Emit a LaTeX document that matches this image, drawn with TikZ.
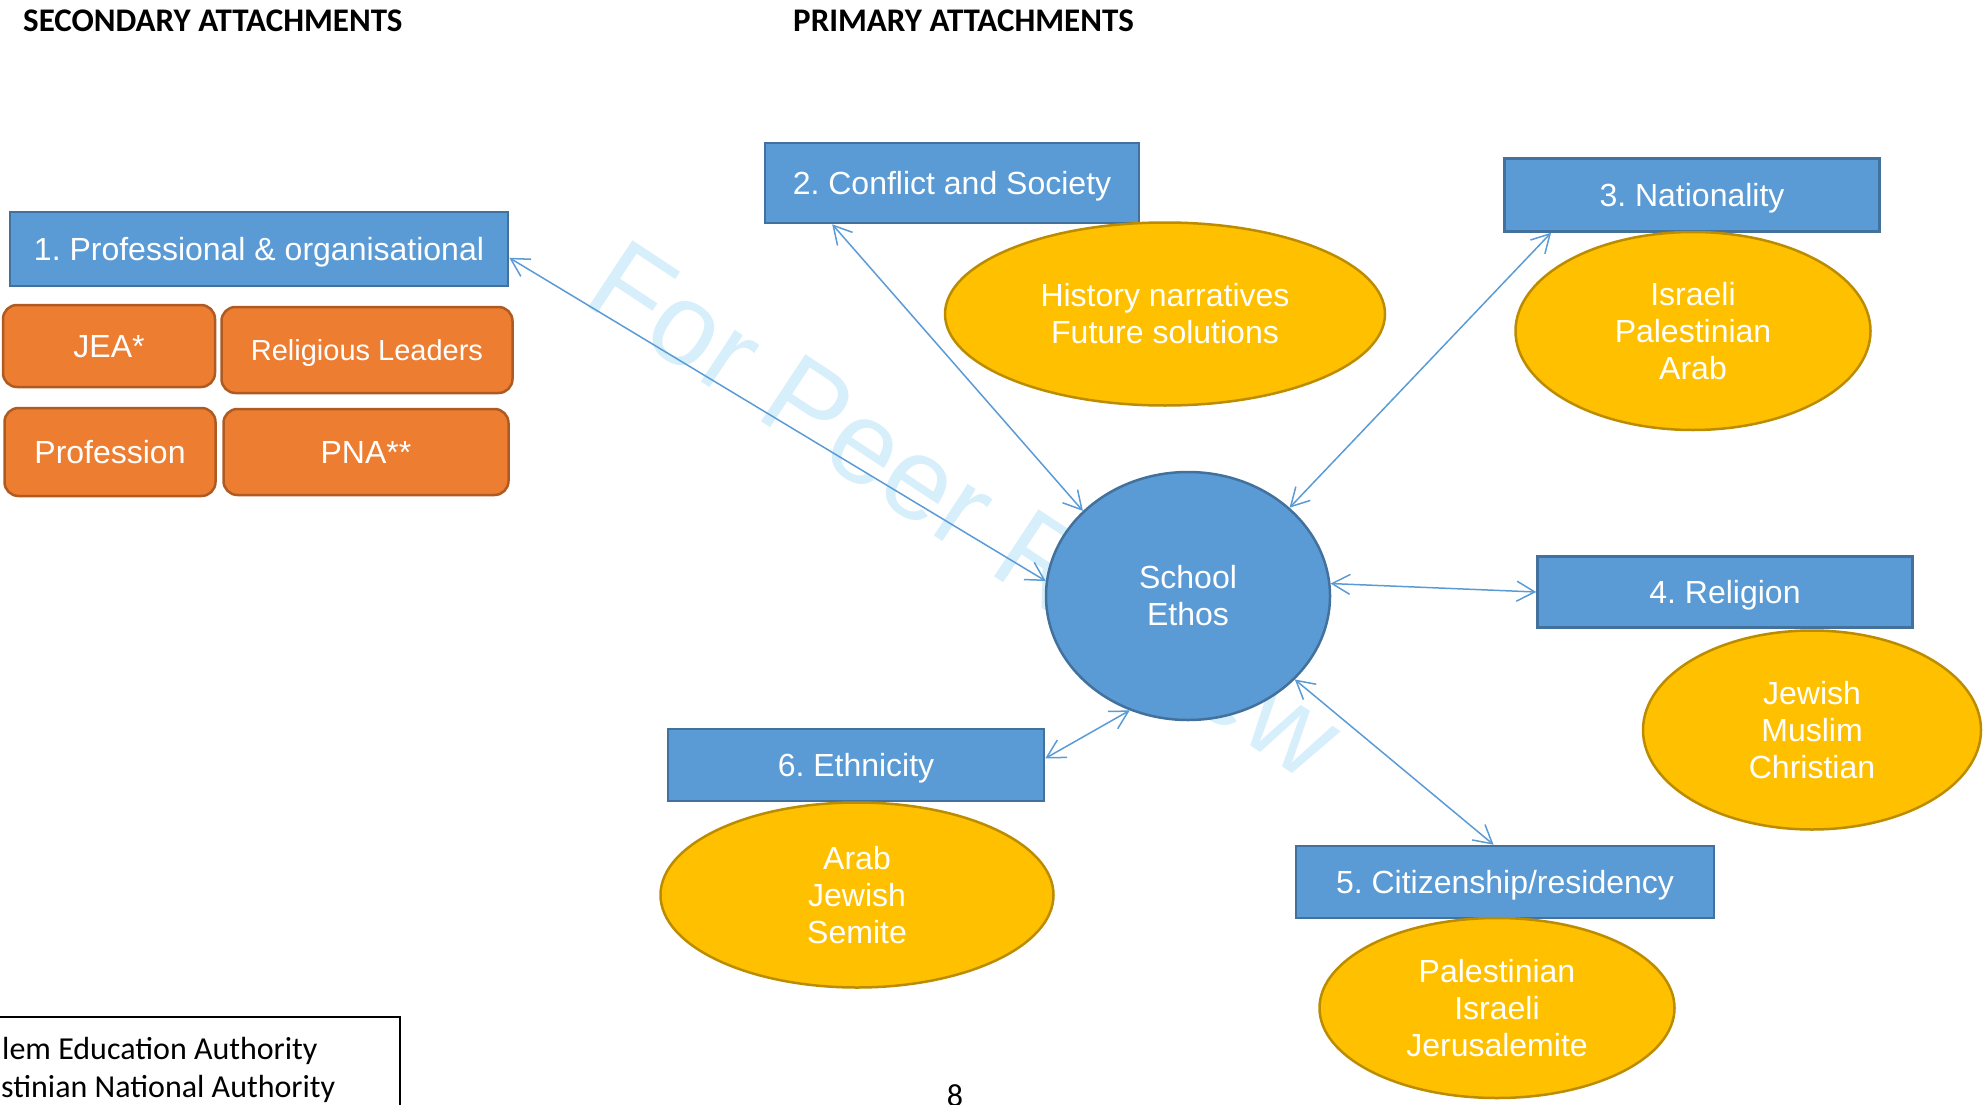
\documentclass[tikz,border=0pt]{standalone}
\usepackage{fontspec}
\setmainfont{Liberation Sans}
\newfontfamily\calibri{Carlito}
\usepackage{xcolor}
\usetikzlibrary{shapes.geometric,arrows.meta}
\frenchspacing

\definecolor{boxblue}{HTML}{5B9BD5}
\definecolor{boxedge}{HTML}{41719C}
\definecolor{orangefill}{HTML}{ED7D31}
\definecolor{orangeedge}{HTML}{AE5A21}
\definecolor{goldfill}{HTML}{FFC000}
\definecolor{goldedge}{HTML}{BC8C00}
\definecolor{stampblue}{RGB}{214,239,251}

\tikzset{
	attach/.style={rectangle, draw=boxedge, fill=boxblue, line width=2.5pt, text=white,
		inner sep=0pt, text height=23pt, text depth=0pt, font=\fontsize{32}{37}\selectfont},
	member/.style={attach, rounded corners=14pt, draw=orangeedge, fill=orangefill},
	facet/.style={ellipse, draw=goldedge, fill=goldfill, line width=2.5pt, text=white,
		inner sep=0pt, align=center, font=\fontsize{32}{37}\selectfont},
	heading/.style={anchor=base west, inner sep=0pt, font=\calibri\bfseries\fontsize{33}{38}\selectfont},
	note/.style={anchor=base west, inner sep=0pt, font=\calibri\fontsize{32}{37}\selectfont},
	link/.style={boxblue, line width=1.5pt,
		{Straight Barb[length=18pt,width=20pt]}-{Straight Barb[length=18pt,width=20pt]}},
}

\begin{document}
\begin{tikzpicture}[x=1pt,y=-1pt]
	\clip (0,0) rectangle (1988,1105);

	% watermark behind everything
	\node[anchor=base west, inner sep=0pt, rotate=-33.5, text=stampblue,
		font=\fontsize{117}{130}\selectfont] (stamp) at (580,302) {For Peer Review};

	\node[heading] (secondary) at (23,32) {SECONDARY ATTACHMENTS};
	\node[heading] (primary) at (793,32) {PRIMARY ATTACHMENTS};

	% secondary attachments
	\node[attach, minimum width=498pt, minimum height=74pt] (prof) at (259,249) {1. Professional \& organisational};
	\node[member, minimum width=212pt, minimum height=82pt] (jea) at (109,346) {JEA*};
	\node[member, minimum width=291pt, minimum height=86pt, text height=21pt,
		font=\fontsize{29}{34}\selectfont] (leaders) at (367,350) {Religious Leaders};
	\node[member, minimum width=211pt, minimum height=88pt] (profession) at (110,452) {Profession};
	\node[member, minimum width=285pt, minimum height=86pt] (pna) at (366,452) {PNA**};

	% primary attachments
	\node[attach, minimum width=374pt, minimum height=80pt] (conflict) at (952,183) {2. Conflict and Society};
	\node[attach, minimum width=375pt, minimum height=73pt] (nation) at (1692,195) {3. Nationality};
	\node[attach, minimum width=375pt, minimum height=71pt] (religion) at (1725,592) {4. Religion};
	\node[attach, minimum width=418pt, minimum height=72pt] (citizen) at (1505,882) {5. Citizenship/residency};
	\node[attach, minimum width=376pt, minimum height=72pt] (ethnic) at (856,765) {6. Ethnicity};

	\node[facet, minimum width=440pt, minimum height=183pt] (history) at (1165,314) {History narratives\\Future solutions};
	\node[facet, minimum width=355pt, minimum height=198pt] (nationlist) at (1693,331) {Israeli\\Palestinian\\Arab};
	\node[facet, minimum width=338pt, minimum height=199pt] (faiths) at (1812,730) {Jewish\\Muslim\\Christian};
	\node[facet, minimum width=355pt, minimum height=180pt] (residency) at (1497,1008) {Palestinian\\Israeli\\Jerusalemite};
	\node[facet, minimum width=393pt, minimum height=185pt] (origins) at (857,895) {Arab\\Jewish\\Semite};

	\node[ellipse, draw=boxedge, fill=boxblue, line width=2.5pt, text=white, inner sep=0pt,
		align=center, minimum width=284pt, minimum height=248pt,
		font=\fontsize{32}{37}\selectfont] (ethos) at (1188,596) {School\\Ethos};

	% links to the school ethos
	\draw[link] (prof.-2) -- (ethos.174);
	\draw[link] (conflict.199) -- (ethos.141);
	\draw[link] (nation.195) -- (ethos.41);
	\draw[link] (religion.west) -- (ethos.5);
	\draw[link] (citizen.107) -- (ethos.-38);
	\draw[link] (ethnic.2) -- (ethos.243);

	% footnote box and page number
	\draw[line width=1.5pt] (-10,1017) rectangle (400,1130);
	\node[note] (jeanote) at (2,1059) {lem Education Authority};
	\node[note] (pnanote) at (1,1097) {stinian National Authority};
	\node[note, anchor=base] (pagenum) at (955,1106) {8};
\end{tikzpicture}
\end{document}
